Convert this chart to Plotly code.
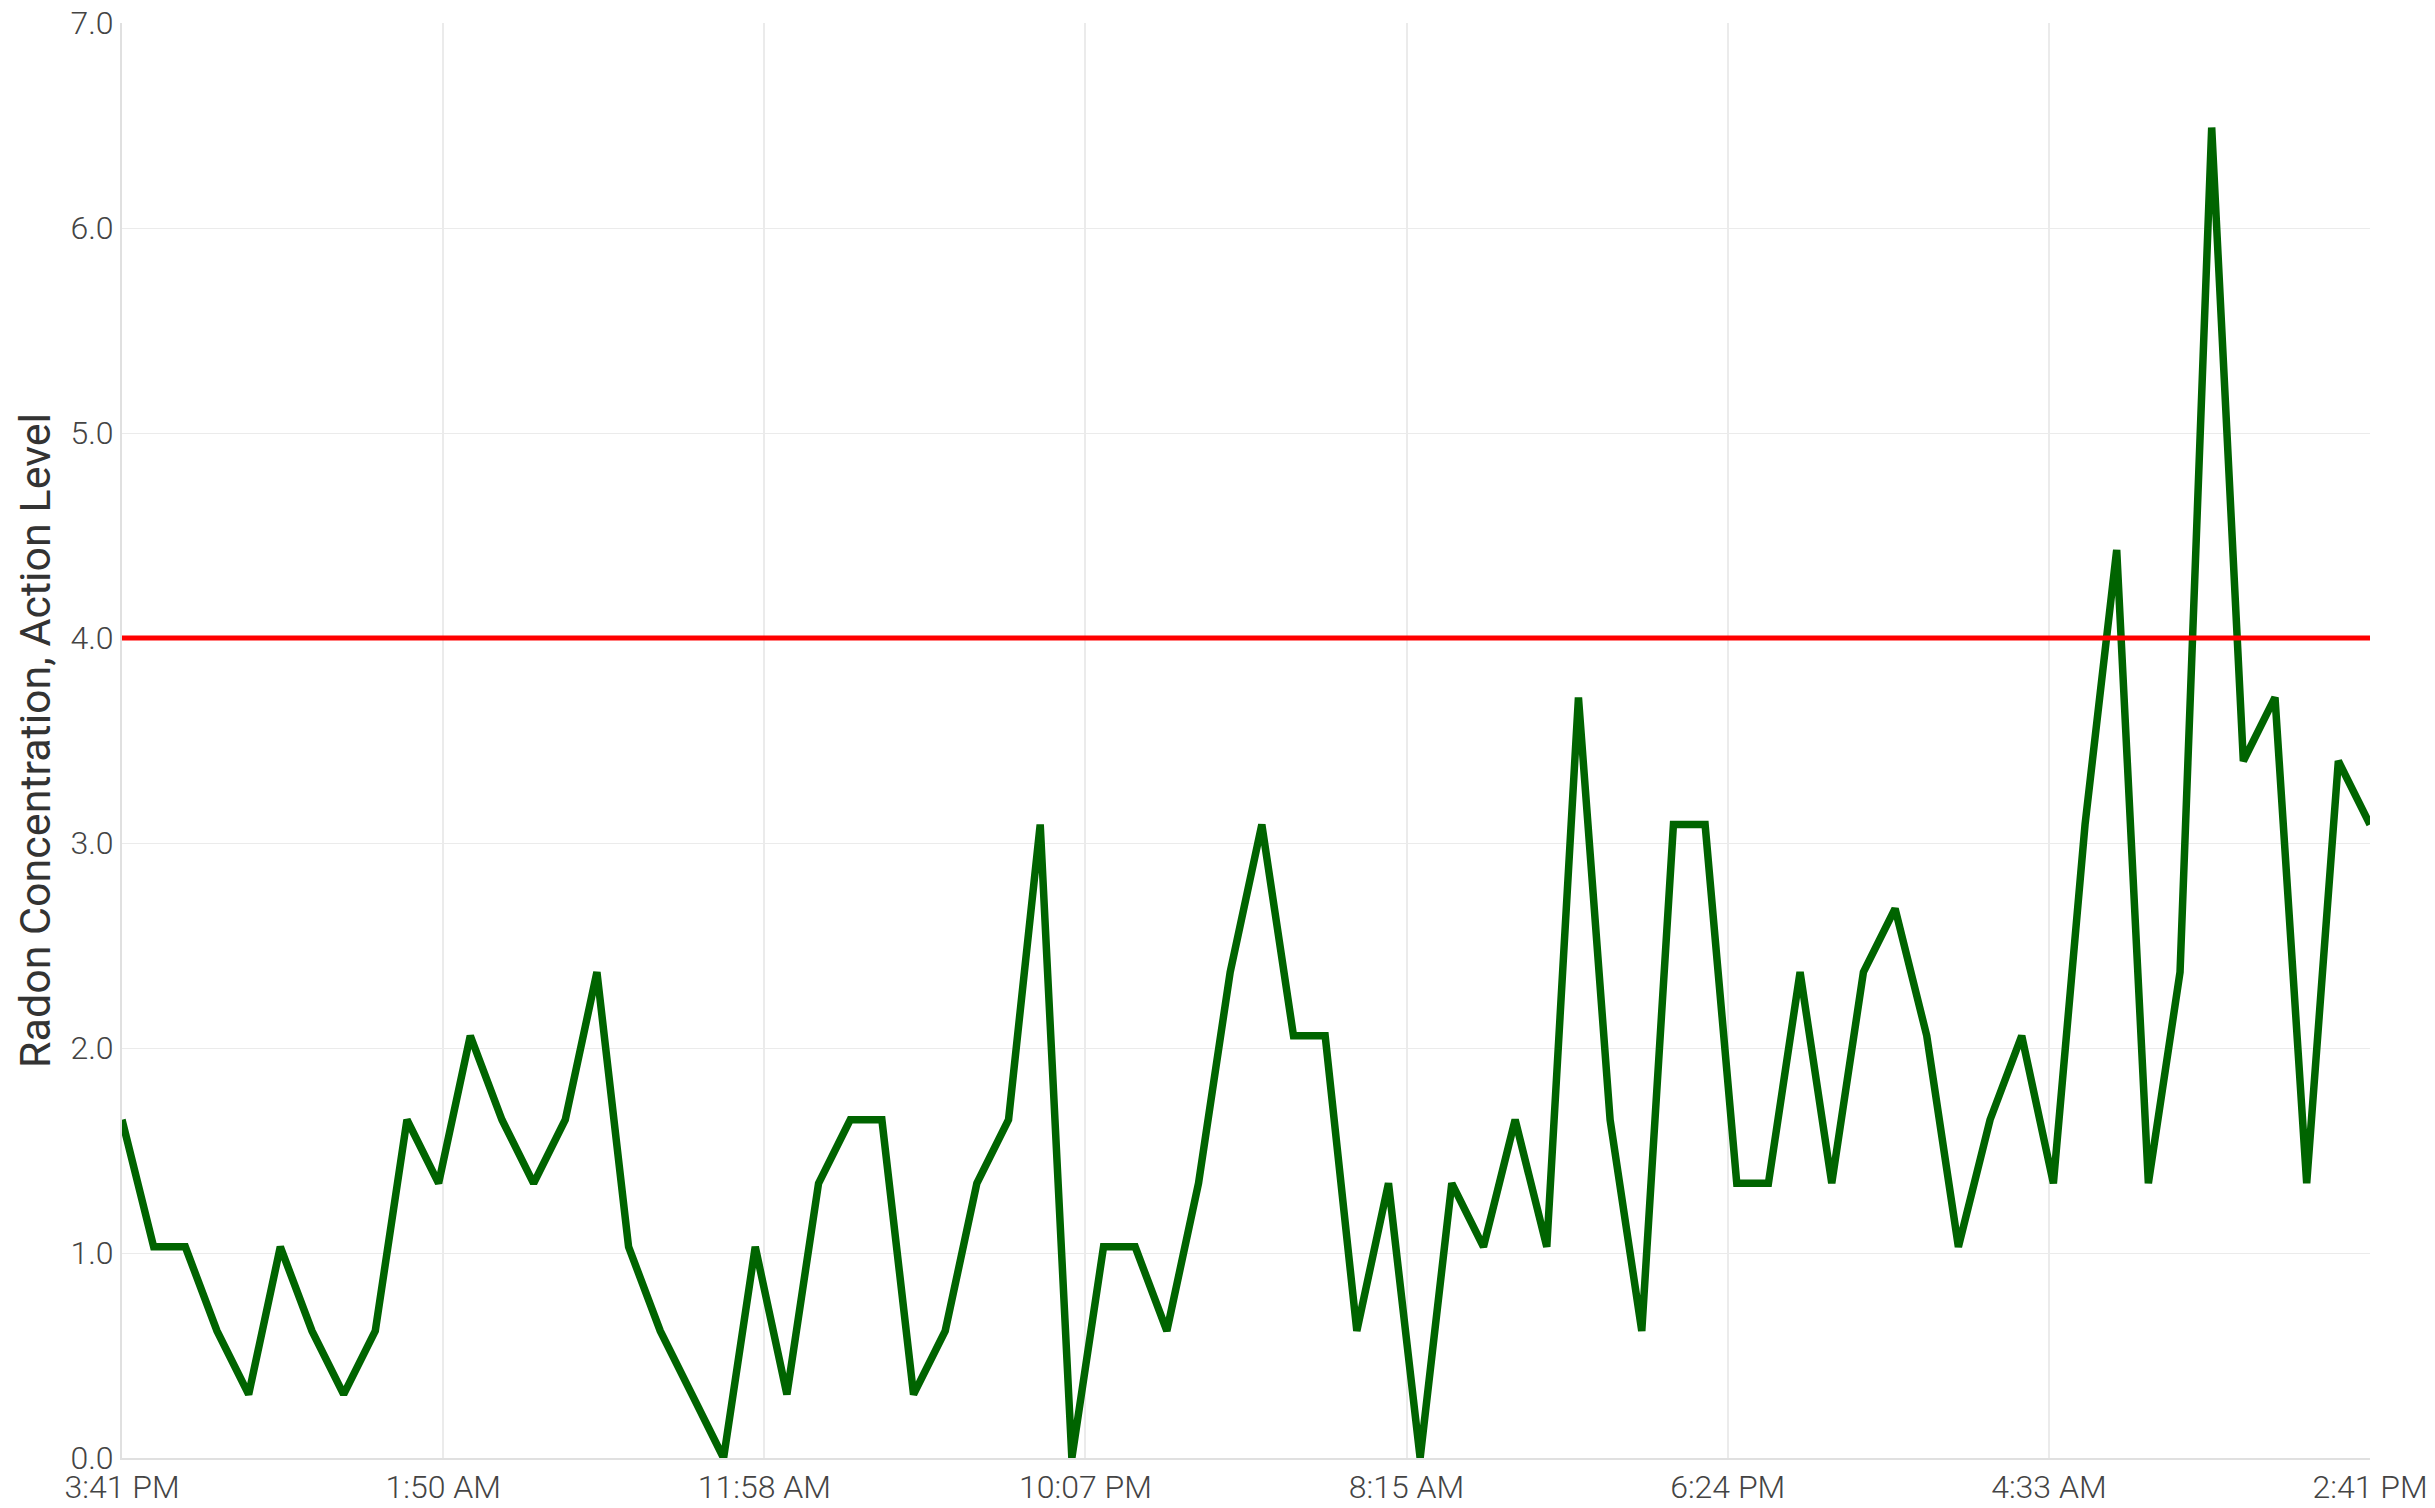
import plotly.graph_objects as go

hours = list(range(72))
radon = [1.65, 1.03, 1.03, 0.62, 0.31, 1.03, 0.62, 0.31, 0.62, 1.65,
         1.34, 2.06, 1.65, 1.34, 1.65, 2.37, 1.03, 0.62, 0.31, 0.0,
         1.03, 0.31, 1.34, 1.65, 1.65, 0.31, 0.62, 1.34, 1.65, 3.09,
         0.0, 1.03, 1.03, 0.62, 1.34, 2.37, 3.09, 2.06, 2.06, 0.62,
         1.34, 0.0, 1.34, 1.03, 1.65, 1.03, 3.71, 1.65, 0.62, 3.09,
         3.09, 1.34, 1.34, 2.37, 1.34, 2.37, 2.68, 2.06, 1.03, 1.65,
         2.06, 1.34, 3.09, 4.43, 1.34, 2.37, 6.49, 3.40, 3.71, 1.34,
         3.40, 3.09]
action_level = [4.0] * len(hours)
tick_labels = ["3:41 PM", "1:50 AM", "11:58 AM", "10:07 PM", "8:15 AM",
               "6:24 PM", "4:33 AM", "2:41 PM"]
tick_positions = [i * (len(hours) - 1) / (len(tick_labels) - 1) for i in range(len(tick_labels))]

fig = go.Figure()
fig.add_trace(go.Scatter(x=hours, y=radon, mode="lines",
                         line=dict(color="#006400", width=7.5),
                         name="Radon Concentration"))
fig.add_trace(go.Scatter(x=hours, y=action_level, mode="lines",
                         line=dict(color="#ff0000", width=5),
                         name="Action Level"))

fig.update_layout(
    width=2435, height=1508,
    paper_bgcolor="white", plot_bgcolor="white",
    showlegend=False,
    margin=dict(l=114, r=73, t=15, b=58),
    font=dict(family="Roboto", size=32, color="#444444", weight=300),
)
fig.update_xaxes(range=[0, 71], tickvals=tick_positions, ticktext=tick_labels,
                 showgrid=True, gridcolor="#ebebeb", gridwidth=2,
                 showline=True, linecolor="#e0e0e0", linewidth=2,
                 zeroline=False, ticks="", automargin=False,
                 ticklabeloverflow="allow")
fig.update_yaxes(range=[0, 7], dtick=1, tickformat=".1f",
                 showgrid=True, gridcolor="#ebebeb", gridwidth=1,
                 showline=True, linecolor="#e0e0e0", linewidth=2,
                 zeroline=False, ticks="", automargin=False,
                 ticklabeloverflow="allow",
                 title=dict(text="Radon Concentration, Action Level",
                            font=dict(size=43, color="#333333", weight=400),
                            standoff=6))

fig.write_html("out.html")
